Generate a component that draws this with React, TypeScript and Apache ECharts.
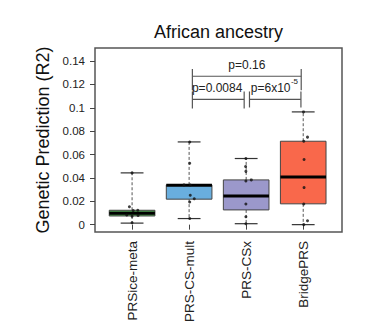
import React, { useEffect, useRef } from 'react';
import * as echarts from 'echarts';

const FONT = '"Liberation Sans", Arial, Helvetica, sans-serif';

const categories = ['PRSice-meta', 'PRS-CS-mult', 'PRS-CSx', 'BridgePRS'];
const catPos = [1, 2, 3, 4];
const whiskerLow = [0.0013, 0.0052, 0.0008, 0.0];
const q1 = [0.0074, 0.0218, 0.0126, 0.0178];
const medians = [0.0098, 0.0337, 0.0246, 0.0407];
const q3 = [0.0123, 0.034, 0.0383, 0.0714];
const whiskerHigh = [0.0443, 0.0708, 0.0566, 0.0965];
const boxColors = ['#4ea150', '#69aede', '#9b98cb', '#f9684b'];

// individual points: x (category position with jitter), y value
const pointsX = [
  0.953, 0.907, 1.0, 1.1, 1.02, 1.105, 1.0, 1.0,
  2.01, 2.01, 2.02, 2.02, 2.09, 2.01, 2.01, 1.91,
  2.995, 2.99, 2.995, 2.995, 3.09, 2.995, 2.995, 2.995,
  4.005, 4.075, 4.01, 4.015, 4.015, 4.01, 4.075, 4.01,
];
const pointsY = [
  0.0153, 0.0082, 0.0071, 0.0123, 0.012, 0.0079, 0.0016, 0.0443,
  0.0708, 0.0525, 0.0339, 0.0251, 0.0222, 0.0194, 0.0052, 0.034,
  0.0566, 0.0497, 0.0456, 0.0374, 0.0383, 0.0177, 0.0068, 0.0008,
  0.0965, 0.0749, 0.0714, 0.0558, 0.0317, 0.0177, 0.0033, 0.0,
];

const yTicks = [0, 0.02, 0.04, 0.06, 0.08, 0.1, 0.12, 0.14];

// significance brackets: from x, to x, horizontal y, tick top, tick bottom
const bracketFrom = [2.057, 2.057, 3.058];
const bracketTo = [3.965, 2.965, 3.96];
const bracketY = [0.127, 0.1072, 0.1072];
const bracketTop = [0.1332, 0.114, 0.114];
const bracketBottom = [0.115, 0.0995, 0.1003];

// annotation texts
const annText = ['p=0.16', 'p=0.0084', 'p=6x10', '-5'];
const annX = [3.012, 2.491, 3.081, 3.785];
const annY = [0.1369, 0.1169, 0.1169, 0.1224];
const annSize = [12, 12, 12, 8];
const annAlign = ['center', 'center', 'left', 'left'];

export default function App() {
  const ref = useRef<HTMLDivElement>(null);
  useEffect(() => {
    document.body.style.margin = '0';
    const chart = echarts.init(ref.current!, null, { renderer: 'svg' });
    const boxData = catPos.map((x, i) => [x, whiskerLow[i], q1[i], medians[i], q3[i], whiskerHigh[i]]);
    const pointData = pointsX.map((x, i) => [x, pointsY[i]]);
    const bracketData = bracketFrom.map((x, i) => [x, bracketTo[i], bracketY[i], bracketTop[i], bracketBottom[i]]);
    const annData = annX.map((x, i) => [x, annY[i], i]);

    const option: any = {
      animation: false,
      backgroundColor: '#ffffff',
      graphic: [
        {
          type: 'text',
          x: 218.5,
          y: 31.5,
          style: {
            text: 'African ancestry',
            fontFamily: FONT,
            fontSize: 18,
            fill: '#111',
            align: 'center',
            verticalAlign: 'middle',
          },
        },
      ],
      grid: {
        left: 95,
        top: 48,
        width: 247,
        height: 192,
        show: true,
        borderColor: '#555',
        borderWidth: 1.5,
        backgroundColor: 'transparent',
      },
      xAxis: {
        type: 'value',
        min: 0.35,
        max: 4.68,
        axisLine: { show: false },
        splitLine: { show: false },
        axisTick: { show: true, customValues: catPos, length: 5, lineStyle: { color: '#444', width: 1 } },
        axisLabel: {
          customValues: catPos,
          formatter: (v: number) => categories[Math.round(v) - 1],
          rotate: 90,
          margin: 9,
          fontSize: 13.5,
          fontFamily: FONT,
          color: '#222',
        },
      },
      yAxis: {
        type: 'value',
        min: -0.0063,
        max: 0.1512,
        name: 'Genetic Prediction (R2)',
        nameLocation: 'middle',
        nameRotate: 90,
        nameGap: 43,
        nameTextStyle: { fontFamily: FONT, fontSize: 18, color: '#111' },
        axisLine: { show: false },
        splitLine: { show: false },
        axisTick: { show: true, customValues: yTicks, length: 5, lineStyle: { color: '#444', width: 1 } },
        axisLabel: {
          customValues: yTicks,
          formatter: (v: number) => String(v),
          margin: 10,
          fontSize: 11.5,
          fontFamily: FONT,
          color: '#222',
        },
      },
      series: [
        {
          type: 'custom',
          data: boxData,
          z: 2,
          renderItem: (params: any, api: any) => {
            const x = api.value(0);
            const pLow = api.coord([x, api.value(1)]);
            const pQ1 = api.coord([x, api.value(2)]);
            const pMed = api.coord([x, api.value(3)]);
            const pQ3 = api.coord([x, api.value(4)]);
            const pHigh = api.coord([x, api.value(5)]);
            const bw = api.size([0.8, 0])[0];
            const cw = api.size([0.4, 0])[0];
            const cx = pMed[0];
            const wStyle = { stroke: '#555', lineWidth: 1, lineDash: [3, 2] };
            const cStyle = { stroke: '#333', lineWidth: 1.2 };
            return {
              type: 'group',
              children: [
                { type: 'line', shape: { x1: cx, y1: pQ3[1], x2: cx, y2: pHigh[1] }, style: wStyle },
                { type: 'line', shape: { x1: cx, y1: pQ1[1], x2: cx, y2: pLow[1] }, style: wStyle },
                { type: 'line', shape: { x1: cx - cw / 2, y1: pHigh[1], x2: cx + cw / 2, y2: pHigh[1] }, style: cStyle },
                { type: 'line', shape: { x1: cx - cw / 2, y1: pLow[1], x2: cx + cw / 2, y2: pLow[1] }, style: cStyle },
                {
                  type: 'rect',
                  shape: { x: cx - bw / 2, y: pQ3[1], width: bw, height: pQ1[1] - pQ3[1] },
                  style: { fill: boxColors[params.dataIndex], stroke: '#444', lineWidth: 1 },
                },
                {
                  type: 'line',
                  shape: { x1: cx - bw / 2, y1: pMed[1], x2: cx + bw / 2, y2: pMed[1] },
                  style: { stroke: '#000', lineWidth: 3 },
                },
              ],
            };
          },
        },
        {
          type: 'scatter',
          data: pointData,
          z: 5,
          symbol: 'circle',
          symbolSize: 3,
          itemStyle: { color: '#111' },
        },
        {
          type: 'custom',
          data: bracketData,
          z: 3,
          renderItem: (params: any, api: any) => {
            const a = api.coord([api.value(0), api.value(2)]);
            const b = api.coord([api.value(1), api.value(2)]);
            const top = api.coord([api.value(0), api.value(3)])[1];
            const bot = api.coord([api.value(0), api.value(4)])[1];
            const st = { stroke: '#555', lineWidth: 1.2 };
            return {
              type: 'group',
              children: [
                { type: 'line', shape: { x1: a[0], y1: a[1], x2: b[0], y2: b[1] }, style: st },
                { type: 'line', shape: { x1: a[0], y1: top, x2: a[0], y2: bot }, style: st },
                { type: 'line', shape: { x1: b[0], y1: top, x2: b[0], y2: bot }, style: st },
              ],
            };
          },
        },
        {
          type: 'custom',
          data: annData,
          z: 4,
          renderItem: (params: any, api: any) => {
            const p = api.coord([api.value(0), api.value(1)]);
            const i = api.value(2);
            return {
              type: 'text',
              x: p[0],
              y: p[1],
              style: {
                text: annText[i],
                fontFamily: FONT,
                fontSize: annSize[i],
                fill: '#222',
                align: annAlign[i],
                verticalAlign: 'middle',
              },
            };
          },
        },
      ],
    };
    chart.setOption(option);
    return () => chart.dispose();
  }, []);
  return <div ref={ref} style={{ width: 389, height: 325 }} />;
}
